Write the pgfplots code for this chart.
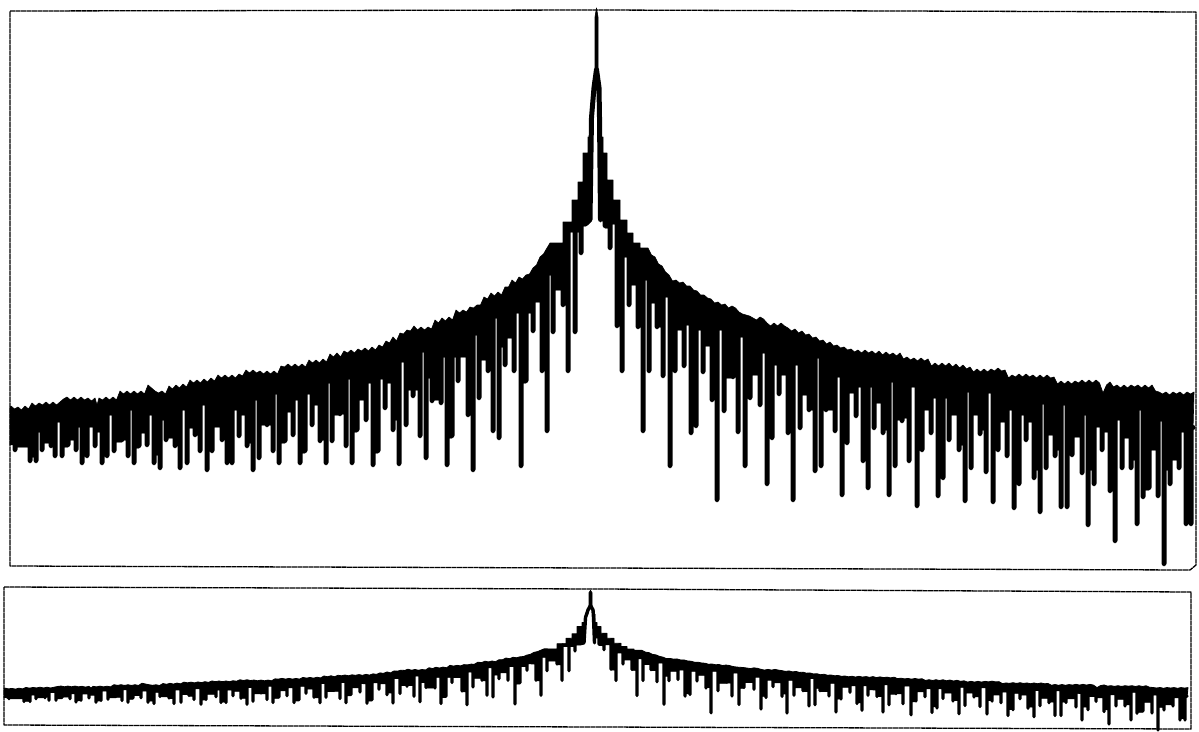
\documentclass[border=0pt]{standalone}
\usepackage{pgfplots}
\usepackage{pgfplotstable}
\pgfplotsset{compat=1.18}
\pgfplotstableread[row sep=\\]{
x y\\
13 445\\
15 445\\15 452\\15 447\\30 447\\30 463\\30 457\\36 457\\36 463\\36 432\\42 432\\42 452\\42 443\\51 443\\51 448\\51 440\\
55 440\\55 458\\55 422\\62 422\\62 458\\62 447\\68 447\\68 447\\68 440\\76 440\\76 452\\76 427\\82 427\\82 465\\82 455\\
87 455\\87 458\\87 427\\95 427\\95 448\\95 432\\102 432\\102 465\\102 455\\107 455\\107 458\\107 415\\114 415\\114 453\\114 442\\
122 442\\122 442\\122 440\\128 440\\128 458\\128 410\\134 410\\134 465\\134 448\\139 448\\139 447\\139 433\\147 433\\147 447\\147 415\\
154 415\\154 465\\154 455\\160 455\\160 470\\160 420\\166 420\\166 442\\166 438\\175 438\\175 448\\175 445\\180 445\\180 470\\180 410\\
187 410\\187 465\\187 428\\195 428\\195 437\\195 435\\200 435\\200 453\\200 405\\207 405\\207 472\\207 450\\212 450\\212 453\\212 427\\
222 427\\222 442\\222 410\\227 410\\227 465\\227 458\\232 458\\232 465\\232 410\\239 410\\239 438\\239 415\\247 415\\247 448\\247 443\\
253 443\\253 472\\253 400\\259 400\\259 460\\259 425\\267 425\\267 427\\267 425\\273 425\\273 453\\273 394\\279 394\\279 465\\279 443\\
285 443\\285 443\\285 412\\293 412\\293 437\\293 400\\300 400\\300 465\\300 453\\305 453\\305 453\\305 394\\312 394\\312 427\\312 405\\
320 405\\320 443\\320 440\\326 440\\326 465\\326 383\\332 383\\332 443\\332 415\\340 415\\340 416\\340 414\\346 414\\346 448\\346 379\\
352 379\\352 465\\352 432\\357 432\\357 432\\357 400\\366 400\\366 422\\366 383\\373 383\\373 467\\373 453\\378 453\\378 453\\378 379\\
385 379\\385 410\\385 383\\393 383\\393 432\\393 420\\399 420\\399 466\\399 362\\406 362\\406 427\\406 390\\413 390\\413 398\\413 390\\
420 390\\420 438\\420 352\\426 352\\426 460\\426 378\\432 378\\432 403\\432 400\\441 400\\441 405\\441 357\\447 357\\447 467\\447 438\\
452 438\\452 438\\452 357\\458 357\\458 383\\458 357\\468 357\\468 417\\468 415\\473 415\\473 472\\473 335\\479 335\\479 400\\479 360\\
488 360\\488 373\\488 370\\493 370\\493 433\\493 318\\499 318\\499 440\\499 347\\505 347\\505 367\\505 338\\514 338\\514 373\\514 313\\
521 313\\521 468\\521 383\\526 383\\526 383\\526 313\\533 313\\533 333\\533 302\\542 302\\542 373\\542 370\\547 370\\547 433\\547 275\\
553 275\\553 334\\553 290\\563 290\\563 307\\563 305\\568 305\\568 373\\568 232\\575 232\\575 334\\575 232\\581 232\\581 255\\581 226\\
586 226\\590 222\\591.5 120\\594 90\\596.5 72\\599 90\\599.5 120\\600.5 222\\600.5 197\\605 197\\605 228\\610 228\\610 250\\610 224\\
617 224\\617 328\\617 326\\622 326\\622 373\\622 257\\629 257\\629 307\\629 285\\638 285\\638 329\\638 327\\643 327\\643 433\\643 280\\
649 280\\649 373\\649 303\\657 303\\657 329\\657 327\\663 327\\663 378\\663 297\\670 297\\670 468\\670 350\\675 350\\675 373\\675 330\\
684 330\\684 368\\684 325\\691 325\\691 435\\691 420\\696 420\\696 428\\696 330\\703 330\\703 374\\703 346\\712 346\\712 402\\712 395\\
717 395\\717 502\\717 330\\724 330\\724 413\\724 378\\733 378\\733 379\\733 377\\738 377\\738 434\\738 337\\745 337\\745 468\\745 398\\
750 398\\750 400\\750 375\\760 375\\760 407\\760 353\\767 353\\767 486\\767 430\\772 430\\772 440\\772 365\\779 365\\779 396\\779 375\\
788 375\\788 435\\788 420\\793 420\\793 502\\793 365\\800 365\\800 430\\800 395\\809 395\\809 412\\809 410\\815 410\\815 473\\815 358\\
821 358\\821 468\\821 397\\826 397\\826 412\\826 410\\835 410\\835 433\\835 377\\842 377\\842 497\\842 440\\847 440\\847 445\\847 393\\
856 393\\856 418\\856 387\\863 387\\863 463\\863 455\\868 455\\868 490\\868 387\\874 387\\874 430\\874 403\\883 403\\883 435\\883 430\\
889 430\\889 497\\889 382\\895 382\\895 468\\895 420\\902 420\\902 423\\902 418\\909 418\\909 463\\909 387\\917 387\\917 508\\917 450\\
922 450\\922 452\\922 410\\931 410\\931 435\\931 398\\938 398\\938 498\\938 470\\943 470\\943 480\\943 398\\949 398\\949 442\\949 415\\
959 415\\959 452\\959 445\\965 445\\965 503\\965 392\\971 392\\971 470\\971 415\\980 415\\980 436\\980 430\\986 430\\986 474\\986 393\\
993 393\\993 504\\993 445\\998 445\\998 452\\998 422\\1007 422\\1007 458\\1007 410\\1014 410\\1014 510\\1014 480\\1019 480\\1019 486\\1019 415\\
1026 415\\1026 442\\1026 422\\1034 422\\1034 480\\1034 470\\1040 470\\1040 514\\1040 404\\1046 404\\1046 470\\1046 435\\1055 435\\1055 458\\1055 450\\
1061 450\\1061 509\\1061 405\\1067 405\\1067 509\\1067 450\\1072 450\\1072 457\\1072 437\\1082 437\\1082 475\\1082 415\\1088 415\\1088 527\\1088 470\\
1094 470\\1094 486\\1094 427\\1102 427\\1102 452\\1102 432\\1110 432\\1110 493\\1110 480\\1115 480\\1115 543\\1115 420\\1122 420\\1122 470\\1122 438\\
1131 438\\1131 470\\1131 460\\1137 460\\1137 526\\1137 410\\1143 410\\1143 499\\1143 490\\1149 490\\1149 458\\1149 450\\1158 450\\1158 498\\1158 421\\
1164 421\\1164 566\\1164 470\\1170 470\\1170 486\\1170 460\\1179 460\\1179 470\\1179 432\\1186 432\\1186 526\\1186 515\\1191 515\\1191 526\\1191 430\\
1193 430\\
}\lowertrace
\pgfplotstableread[row sep=\\]{
x y\\
1194 392\\1190.5 394\\1187 392\\1183.5 395\\1180 392\\1176.5 394\\1173 392\\1169.5 395\\1166 392\\1162.5 394\\1159 392\\1155.5 391\\1152 385\\1148.5 388\\1145 385\\1141.5 388\\1138 385\\1134.5 387\\1131 385\\1127.5 388\\1124 385\\1120.5 388\\1117 385\\1113.5 387\\1110 382\\1106.5 385\\1103 393\\1099.5 383\\1096 380\\1092.5 383\\1089 380\\1085.5 383\\1082 380\\1078.5 383\\1075 381\\1071.5 384\\1068 381\\1064.5 384\\1061 381\\1057.5 384\\1054 377\\1050.5 378\\1047 375\\1043.5 378\\1040 375\\1036.5 378\\1033 375\\1029.5 377\\1026 374\\1022.5 377\\1019 374\\1015.5 377\\1012 375\\1008.5 378\\1005 370\\1001.5 371\\998 368\\994.5 371\\991 369\\987.5 372\\984 369\\980.5 372\\977 369\\973.5 372\\970 367\\966.5 369\\963 365\\959.5 368\\956 364\\952.5 367\\949 363\\945.5 366\\942 363\\938.5 366\\935 363\\931.5 366\\928 359\\924.5 361\\921 358\\917.5 361\\914 358\\910.5 360\\907 357\\903.5 359\\900 353\\896.5 356\\893 353\\889.5 355\\886 352\\882.5 355\\879 351\\875.5 354\\872 351\\868.5 353\\865 350\\861.5 353\\858 350\\854.5 352\\851 349\\847.5 350\\844 347\\840.5 348\\837 345\\833.5 346\\830 342\\826.5 344\\823 340\\819.5 341\\816 337\\812.5 338\\809 334\\805.5 335\\802 331\\798.5 333\\795 329\\791.5 331\\788 328\\784.5 326\\781 323\\777.5 326\\774 323\\770.5 326\\767 323\\763.5 319\\760 317\\756.5 320\\753 318\\749.5 316\\746 315\\742.5 314\\739 312\\735.5 308\\732 306\\728.5 308\\725 304\\721.5 305\\718 302\\714.5 303\\711 299\\707.5 298\\704 295\\700.5 295\\697 291\\693.5 290\\690 286\\686.5 286\\683 282\\679.5 283\\676 280\\672.5 281\\669 275\\665.5 272\\662 266\\658.5 264\\655 257\\651.5 255\\648 248\\
640 248\\640 243\\633 243\\633 233\\627 233\\627 220\\620 220\\620 200\\613 200\\613 180\\607 180\\607 153\\603 153\\603 137\\601 137\\601 103\\599 103\\599 78\\598 78\\598 17\\596.5 8\\595 17\\595 78\\594 78\\594 103\\592 103\\592 137\\588 137\\588 153\\583 153\\583 182\\578 182\\578 200\\572 200\\572 222\\563 222\\563 243\\557 243\\550 243\\
547 248\\543.5 254\\540 257\\536.5 265\\533 268\\529.5 274\\526 275\\522.5 279\\519 277\\515.5 283\\512 280\\508.5 287\\505 287\\501.5 295\\498 292\\494.5 296\\491 293\\487.5 299\\484 297\\480.5 305\\477 305\\473.5 308\\470 307\\466.5 312\\463 310\\459.5 313\\456 310\\452.5 320\\449 317\\445.5 321\\442 318\\438.5 323\\435 320\\431.5 329\\428 327\\424.5 330\\421 327\\417.5 330\\414 326\\410.5 331\\407 330\\403.5 334\\400 333\\396.5 341\\393 337\\389.5 343\\386 341\\382.5 347\\379 345\\375.5 350\\372 347\\368.5 351\\365 348\\361.5 351\\358 349\\354.5 353\\351 350\\347.5 353\\344 351\\340.5 357\\337 353\\333.5 357\\330 354\\326.5 362\\323 359\\319.5 363\\316 360\\312.5 363\\309 360\\305.5 367\\302 364\\298.5 367\\295 364\\291.5 367\\288 364\\284.5 367\\281 366\\277.5 374\\274 371\\270.5 374\\267 371\\263.5 374\\260 371\\256.5 373\\253 370\\249.5 373\\246 370\\242.5 376\\239 374\\235.5 378\\232 375\\228.5 378\\225 375\\221.5 378\\218 375\\214.5 381\\211 378\\207.5 382\\204 379\\200.5 383\\197 380\\193.5 383\\190 380\\186.5 387\\183 384\\179.5 388\\176 385\\172.5 389\\169 386\\165.5 394\\162 391\\158.5 393\\155 391\\151.5 388\\148 385\\144.5 394\\141 391\\137.5 394\\134 391\\130.5 394\\127 391\\123.5 394\\120 391\\116.5 400\\113 397\\109.5 400\\106 397\\102.5 400\\99 398\\97 405\\95 398\\91.5 401\\88 398\\84.5 400\\81 397\\77.5 400\\74 397\\70.5 400\\67 397\\63.5 399\\60 402\\56.5 405\\53 402\\49.5 405\\46 402\\42.5 405\\39 403\\35.5 406\\32 403\\28.5 409\\25 406\\21.5 410\\18 407\\14.5 409\\11 406\\
10 407\\10 445\\
}\uppertrace
\pgfplotstablevertcat{\signal}{\lowertrace}
\pgfplotstablevertcat{\signal}{\uppertrace}
\pgfplotsset{page/.style={at={(0,0)},anchor=south west,scale only axis,width=1199pt,height=731pt,
  hide axis,y dir=reverse,ymin=0,ymax=731,xmin=0,xmax=1199,clip=false}}
\begin{document}
\begin{tikzpicture}
\useasboundingbox (0,0) rectangle (1199pt,731pt);
\begin{axis}[page]
\addplot[draw=black,line width=1.3pt,dash pattern=on 5pt off .5pt,line join=round] coordinates {(10,11)(600,10)(1196,12)(1196,565)(1190,570)(600,568)(10,566)(10,11)};
\addplot[draw=black,line width=1.3pt,dash pattern=on 5pt off .5pt,line join=round] coordinates {(4,587)(600,589)(1191,592)(1191,729)(600,727)(4,725)(4,587)};
\addplot[draw=black,line width=5pt,line join=round,line cap=round,yshift=2.5pt] table[x=x,y=y] {\lowertrace};
\addplot[draw=black,fill=black,line width=.6pt,line join=round] table[x=x,y=y] {\signal};
\end{axis}
\begin{axis}[page,ymin=-2357.5,ymax=578.3,xmin=6,xmax=1205]
\addplot[draw=black,line width=3.4pt,line join=round,line cap=round,yshift=1pt] table[x=x,y expr=\thisrow{y}+0.01*\thisrow{x}] {\lowertrace};
\addplot[draw=black,fill=black,line width=.8pt,line join=round] table[x=x,y expr=\thisrow{y}+0.01*\thisrow{x}] {\signal};
\end{axis}
\end{tikzpicture}
\end{document}
